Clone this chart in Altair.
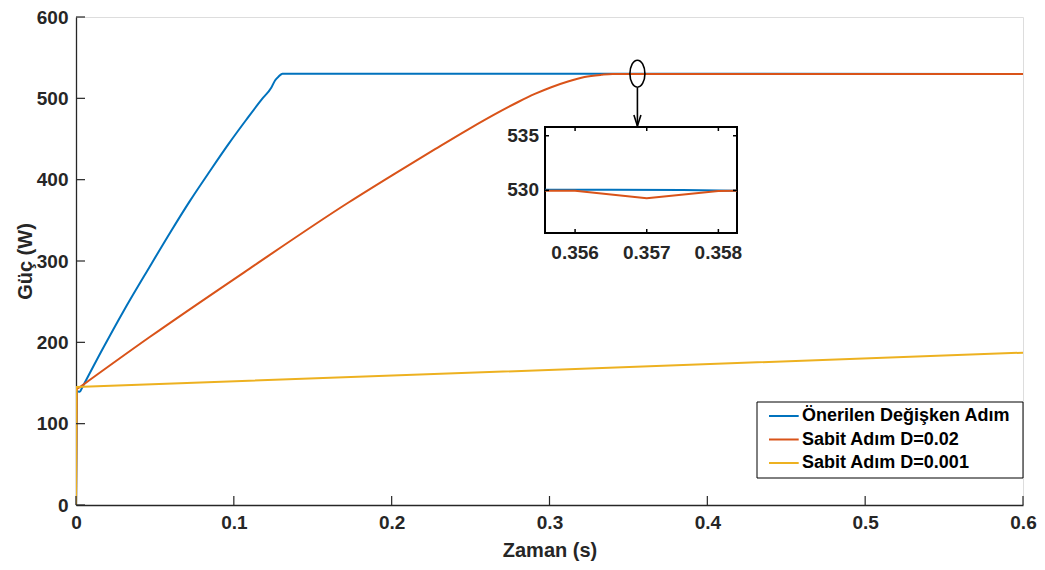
import altair as alt
import pandas as pd

# ---------------- data ----------------
SERIES = ["Önerilen Değişken Adım", "Sabit Adım D=0.02", "Sabit Adım D=0.001"]
COLORS = ["#0072BD", "#D95319", "#EDB120"]

blue_t = [0, 0.0005, 0.0025, 0.0172, 0.03, 0.0467, 0.06, 0.0719, 0.085, 0.0967, 0.108, 0.1178,
          0.1237, 0.1262, 0.1285, 0.1308, 0.6]
blue_p = [0, 140, 139, 193, 238, 293, 336, 373, 411, 444, 474, 499,
          513, 522.3, 527, 530.2, 530]

orange_t = [0, 0.0005, 0.0025, 0.0467, 0.1098, 0.1729, 0.2, 0.2275, 0.2486, 0.2696, 0.2801,
            0.2907, 0.3011, 0.3117, 0.3222, 0.3327, 0.34, 0.6]
orange_p = [0, 143, 145, 206.5, 290.4, 372.2, 405, 437.5, 461.9, 484.8, 495.5,
            505.4, 513.7, 520.7, 526.2, 528.9, 530, 530]

yellow_t = [0, 0.0003, 0.6]
yellow_p = [0, 145, 187.3]

# number of leading points that form the initial jump at t = 0 (drawn straight)
JUMP_POINTS = 3

x_ticks = [0, 0.1, 0.2, 0.3, 0.4, 0.5, 0.6]
y_ticks = [0, 100, 200, 300, 400, 500, 600]

# zoomed inset
inset_blue_t = [0.35558, 0.3565, 0.3575, 0.35826]
inset_blue_p = [530.06, 530.06, 530.04, 529.97]
inset_orange_t = [0.35558, 0.356, 0.357, 0.358, 0.35826]
inset_orange_p = [529.97, 529.97, 529.27, 529.95, 529.97]
inset_x_ticks = [0.356, 0.357, 0.358]
inset_y_ticks = [530, 535]
inset_x_domain = [0.35558, 0.35826]
inset_y_domain = [526.1, 535.8]

# annotation (ellipse marking the zoomed spot and arrow)
mark_x = [0.3557]
mark_y = [530.3]
arrow_y = [512.7, 466.0]
arrow_head_y = [472.8]

# ---------------- layout ----------------
W, H = 947, 488
INSET_X_RANGE = [469, 661]
INSET_Y_RANGE = [216, 110]
FONT = "Liberation Sans"
TXT = "#262626"

xs = alt.Scale(domain=[0, 0.6], nice=False, zero=False)
ys = alt.Scale(domain=[0, 600], nice=False, zero=False)
ixs = alt.Scale(domain=inset_x_domain, range=INSET_X_RANGE, nice=False, zero=False)
iys = alt.Scale(domain=inset_y_domain, range=INSET_Y_RANGE, nice=False, zero=False)

x_axis = alt.Axis(values=x_ticks, format="~g", ticks=False, grid=False,
                  domainColor=TXT, domainWidth=1.3,
                  labelFont=FONT, labelFontSize=19, labelFontWeight="bold", labelColor=TXT,
                  labelPadding=8, labelFlush=False,
                  title="Zaman (s)", titleFont=FONT, titleFontSize=20, titleFontWeight="bold",
                  titleColor=TXT, titlePadding=8)
y_axis = alt.Axis(values=y_ticks, format="d", ticks=False, grid=False,
                  domainColor=TXT, domainWidth=1.3,
                  labelFont=FONT, labelFontSize=19, labelFontWeight="bold", labelColor=TXT,
                  labelPadding=8, labelFlush=False,
                  title="Güç (W)", titleFont=FONT, titleFontSize=20, titleFontWeight="bold",
                  titleColor=TXT, titlePadding=1)

legend = alt.Legend(title=None, orient="none", legendX=692, legendY=387,
                    padding=0, symbolType="M-1,0L1.7,0", symbolSize=484, symbolStrokeWidth=2,
                    labelFont=FONT, labelFontSize=18, labelFontWeight="bold",
                    labelColor="black", labelOffset=10, rowPadding=2.5, labelLimit=400)
color = alt.Color("s:N", scale=alt.Scale(domain=SERIES, range=COLORS), legend=legend)

X = alt.X("t:Q", scale=xs, axis=x_axis)
Y = alt.Y("p:Q", scale=ys, axis=y_axis)


def series_df(t, p, name):
    return pd.DataFrame({"t": t, "p": p, "s": name})


main_layers = []
for t, p, name in [(blue_t, blue_p, SERIES[0]), (orange_t, orange_p, SERIES[1])]:
    df = series_df(t, p, name)
    main_layers.append(
        alt.Chart(df.iloc[:JUMP_POINTS]).mark_line(strokeWidth=2, clip=True)
        .encode(x=X, y=Y, color=color)
    )
    main_layers.append(
        alt.Chart(df.iloc[JUMP_POINTS - 1:]).mark_line(strokeWidth=2, clip=True,
                                                       interpolate="monotone")
        .encode(x=X, y=Y, color=color)
    )
main_layers.append(
    alt.Chart(series_df(yellow_t, yellow_p, SERIES[2])).mark_line(strokeWidth=2, clip=True)
    .encode(x=X, y=Y, color=color)
)

# inward ticks of the main axes
ytick = alt.Chart(pd.DataFrame({"p": y_ticks})).mark_rule(color=TXT, strokeWidth=1.2).encode(
    y=Y, x=alt.value(0), x2=alt.value(9))
xtick = alt.Chart(pd.DataFrame({"t": x_ticks})).mark_rule(color=TXT, strokeWidth=1.2).encode(
    x=X, y=alt.value(H), y2=alt.value(H - 9))

ellipse = alt.Chart(pd.DataFrame({"t": mark_x, "p": mark_y})).mark_point(
    shape="M0,-1 A0.556,1 0 1,1 0,1 A0.556,1 0 1,1 0,-1 Z",
    size=729, filled=False, stroke="black", strokeWidth=1.6, opacity=1).encode(x=X, y=Y)
arrow = alt.Chart(pd.DataFrame({"t": mark_x, "p": [arrow_y[0]], "p2": [arrow_y[1]]})).mark_rule(
    color="black", strokeWidth=1.6).encode(x=X, y=Y, y2="p2:Q")
head = alt.Chart(pd.DataFrame({"t": mark_x, "p": arrow_head_y})).mark_point(
    shape="M-0.64,-1 L0,1 L0.64,-1", size=121, filled=False, stroke="black",
    strokeWidth=1.6, opacity=1).encode(x=X, y=Y)

# legend box (drawn behind the legend entries)
legend_box = alt.Chart(pd.DataFrame({"k": [0]})).mark_rect(
    fill="white", stroke="black", strokeWidth=1).encode(
    x=alt.value(681), x2=alt.value(W), y=alt.value(385), y2=alt.value(461))

main = alt.layer(*main_layers, ytick, xtick, ellipse, arrow, head, legend_box)

# ---------------- inset ----------------
IX = alt.X("t:Q", scale=ixs, axis=None)
IY = alt.Y("p:Q", scale=iys, axis=None)

frame = alt.Chart(pd.DataFrame({"t": [inset_x_domain[0]], "t2": [inset_x_domain[1]],
                                "p": [inset_y_domain[0]], "p2": [inset_y_domain[1]]})).mark_rect(
    fill="white", stroke="black", strokeWidth=2).encode(x=IX, x2="t2:Q", y=IY, y2="p2:Q")

inset_lines = [
    alt.Chart(series_df(inset_blue_t, inset_blue_p, SERIES[0])).mark_line(strokeWidth=2)
    .encode(x=IX, y=IY, color=color),
    alt.Chart(series_df(inset_orange_t, inset_orange_p, SERIES[1])).mark_line(strokeWidth=2)
    .encode(x=IX, y=IY, color=color),
]

ydom = inset_y_domain[1] - inset_y_domain[0]
xdom = inset_x_domain[1] - inset_x_domain[0]
tick_len_y = ydom * 4 / (INSET_Y_RANGE[0] - INSET_Y_RANGE[1])
tick_len_x = xdom * 4 / (INSET_X_RANGE[1] - INSET_X_RANGE[0])

ixt = pd.DataFrame({"t": inset_x_ticks})
ixt_bottom = ixt.assign(p=inset_y_domain[0], p2=inset_y_domain[0] + tick_len_y)
ixt_top = ixt.assign(p=inset_y_domain[1], p2=inset_y_domain[1] - tick_len_y)
iyt = pd.DataFrame({"p": inset_y_ticks})
iyt_left = iyt.assign(t=inset_x_domain[0], t2=inset_x_domain[0] + tick_len_x)
iyt_right = iyt.assign(t=inset_x_domain[1], t2=inset_x_domain[1] - tick_len_x)

inset_ticks = [
    alt.Chart(d).mark_rule(color="black", strokeWidth=1.5).encode(x=IX, y=IY, y2="p2:Q")
    for d in (ixt_bottom, ixt_top)
] + [
    alt.Chart(d).mark_rule(color="black", strokeWidth=1.5).encode(x=IX, x2="t2:Q", y=IY)
    for d in (iyt_left, iyt_right)
]

ixlab = alt.Chart(ixt_bottom).mark_text(
    font=FONT, fontSize=19, fontWeight="bold", color=TXT, baseline="top", dy=11
).encode(x=IX, y=IY, text=alt.Text("t:Q", format=".3f"))
iylab = alt.Chart(iyt_left).mark_text(
    font=FONT, fontSize=19, fontWeight="bold", color=TXT, align="right", baseline="middle", dx=-6
).encode(x=IX, y=IY, text=alt.Text("p:Q", format="d"))

inset = alt.layer(frame, *inset_lines, *inset_ticks, ixlab, iylab)

chart = (
    alt.layer(main, inset)
    .resolve_scale(x="independent", y="independent")
    .properties(width=W, height=H, autosize="none",
                padding={"left": 68, "top": 9, "right": 14, "bottom": 57})
    .configure_view(stroke=None)
    .configure(background="white")
)

chart.save("out.html", embed_options={"renderer": "svg", "actions": False})
